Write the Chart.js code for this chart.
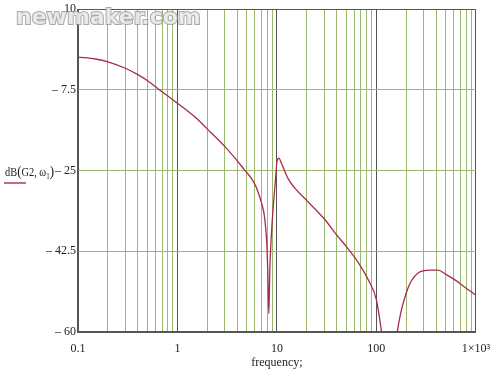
<!DOCTYPE html>
<html>
<head>
<meta charset="utf-8">
<script src="https://cdn.jsdelivr.net/npm/chart.js@4.4.1/dist/chart.umd.min.js"></script>
<style>
html,body{margin:0;padding:0;background:#fff;}
#wrap{position:relative;width:500px;height:381px;}
</style>
</head>
<body>
<div id="wrap"><canvas id="c" width="500" height="381"></canvas></div>
<script>
// Data
const frequency = [0.1,0.15,0.2,0.3,0.4,0.5,0.7,1.0,1.5,2.0,3.0,4.0,4.7,5.5,6.2,7.0,7.5,7.9,8.1,8.3,8.5,8.8,9.1,9.5,9.8,10.0,10.5,11,13,15,20,30,40,50,66,83,100,112,125,140,160,200,263,347,417,500,617,800,1000];
const dBG2 = [-0.4,-0.8,-1.4,-2.8,-4.2,-5.5,-7.9,-10.4,-13.4,-16.0,-19.8,-22.9,-24.8,-26.6,-28.6,-32.0,-35.0,-40.5,-47,-56,-46,-39,-34,-29,-25.5,-23,-22.3,-23.2,-26.8,-28.7,-31.5,-35.5,-39,-41.5,-45,-48.7,-53,-59.6,-68,-75,-61,-51.5,-47.2,-46.6,-46.6,-47.5,-48.7,-50.5,-52];
const yTicks = [10,-7.5,-25,-42.5,-60];
const xDecades = [0.1,1,10,100,1000];
const xTickLabels = ['0.1','1','10','100','1×10³'];

const green = 'rgb(155,185,110)';
const dark = 'rgb(85,85,85)';

const xGrid = [];
for (let d = 0; d < xDecades.length; d++) {
  const base = xDecades[d];
  if (d === xDecades.length - 1) { xGrid.push(base); break; }
  for (let m = 1; m <= 9; m++) xGrid.push(+(base * m).toPrecision(6));
}
function isDecade(v){ return xDecades.some(d => Math.abs(d - v) < d*1e-6); }

const labelPlugin = {
  id: 'extraText',
  afterDraw(chart) {
    const ctx = chart.ctx;
    ctx.save();
    // y-axis title
    ctx.fillStyle = '#222';
    ctx.textBaseline = 'alphabetic';
    const parts = [['dB',0,12],['(',0,15],['G2, ',0,12],['ω',0,12],['1',3,8],[')',0,15]];
    let total = 0;
    for (const [t, dy, s] of parts) { ctx.font = s + 'px "Liberation Serif"'; total += ctx.measureText(t).width; }
    const sx = 49 / total;
    ctx.save();
    ctx.translate(5, 176);
    ctx.scale(sx, 1);
    let x = 0;
    for (const [t, dy, s] of parts) {
      ctx.font = s + 'px "Liberation Serif"';
      ctx.fillText(t, x, dy);
      x += ctx.measureText(t).width;
    }
    ctx.restore();
    ctx.strokeStyle = 'rgb(170,60,90)';
    ctx.lineWidth = 1.5;
    ctx.beginPath(); ctx.moveTo(4, 183); ctx.lineTo(26, 183); ctx.stroke();
    // watermark
    ctx.font = 'bold 22px "DejaVu Sans"';
    ctx.lineWidth = 2;
    ctx.strokeStyle = 'rgba(150,150,150,0.8)';
    ctx.fillStyle = 'rgba(235,235,235,0.9)';
    ctx.strokeText('newmaker.com', 16, 24);
    ctx.fillText('newmaker.com', 16, 24);
    ctx.restore();
  }
};

new Chart(document.getElementById('c'), {
  type: 'line',
  data: {
    datasets: [{
      data: frequency.map((f, i) => ({x: f, y: dBG2[i]})),
      borderColor: 'rgb(165,45,75)',
      borderWidth: 1.3,
      pointRadius: 0,
      cubicInterpolationMode: 'monotone',
      fill: false
    }]
  },
  options: {
    responsive: false,
    animation: false,
    layout: {padding: {left: 0, right: 22, top: 9, bottom: 0}},
    plugins: {legend: {display: false}, tooltip: {enabled: false}},
    scales: {
      x: {
        type: 'logarithmic',
        min: 0.1, max: 1000,
        afterBuildTicks(scale) { scale.ticks = xGrid.map(v => ({value: v})); },
        afterFit(scale) { scale.height = 49; },
        grid: {
          color: c => isDecade(c.tick.value) ? dark : green,
          lineWidth: 1,
          drawTicks: false
        },
        border: {color: dark, width: 1.3},
        ticks: {
          autoSkip: false, maxRotation: 0, padding: 10,
          color: '#222',
          font: {family: 'Liberation Serif', size: 12},
          callback: v => { const i = xDecades.findIndex(d => Math.abs(d - v) < d*1e-6); return i >= 0 ? xTickLabels[i] : ''; }
        },
        title: {display: true, text: 'frequency;', color: '#222', font: {family: 'Liberation Serif', size: 12}, padding: {top: 0, bottom: 11}}
      },
      y: {
        type: 'linear',
        min: -60, max: 10,
        afterBuildTicks(scale) { scale.ticks = yTicks.map(v => ({value: v})); },
        afterFit(scale) { scale.width = 78; },
        grid: {
          color: c => (c.tick.value === 10 || c.tick.value === -60) ? dark : green,
          lineWidth: 1,
          drawTicks: false
        },
        border: {color: dark, width: 1.3},
        ticks: {
          padding: 2,
          color: '#222',
          font: {family: 'Liberation Serif', size: 12},
          callback: v => v < 0 ? '\u2013 ' + Math.abs(v) : String(v)
        }
      }
    }
  },
  plugins: [labelPlugin]
});
</script>
</body>
</html>
